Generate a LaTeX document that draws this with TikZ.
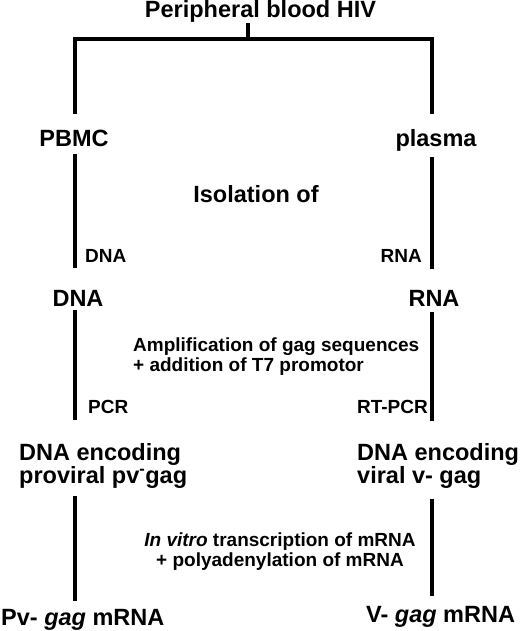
\documentclass[tikz,border=0pt]{standalone}
\usepackage{fontspec}
\setmainfont{Liberation Sans}
\usetikzlibrary{positioning, calc}

\begin{document}
\begin{tikzpicture}[
        x=1pt, y=1pt,
        big/.style={inner sep=0pt, font=\bfseries\fontsize{23.5}{19}\selectfont, align=left},
        small/.style={inner sep=0pt, font=\bfseries\fontsize{19}{20}\selectfont, align=left},
        link/.style={line width=4pt}
    ]
        \useasboundingbox (0,0) rectangle (520,-631);
        \coordinate (split) at (248,-39.5);
        \coordinate (colL) at (75,0);
        \coordinate (colR) at (432,0);

        \node[big, anchor=base] (blood) at (260.5,-18) {Peripheral blood HIV};
        \node[big, anchor=base] (pbmc) at (74,-147) {PBMC};
        \node[big, anchor=base] (plasma) at (436,-147) {plasma};
        \node[big, anchor=base] (isolation) at (256,-202) {Isolation of};
        \node[small, anchor=base west] (dnalabel) at (85,-262) {DNA};
        \node[small, anchor=base east] (rnalabel) at (422,-262) {RNA};
        \node[big, anchor=base] (dna) at (78,-306) {DNA};
        \node[big, anchor=base] (rna) at (434,-306) {RNA};
        \node[small, anchor=north west] (amplification) at (133,-338) {Amplification of gag sequences\\+ addition of T7 promotor};
        \node[small, anchor=base west] (pcr) at (88,-413) {PCR};
        \node[small, anchor=base east] (rtpcr) at (428,-413) {RT-PCR};
        \node[big, anchor=north west] (encodingL) at (19,-443) {DNA encoding\\proviral pv\textsuperscript{-}gag};
        \node[big, anchor=north west] (encodingR) at (357,-443) {DNA encoding\\viral v- gag};
        \node[small, anchor=north, align=center] (transcription) at (280,-533) {\textit{In vitro} transcription of mRNA\\+ polyadenylation of mRNA};
        \node[big, anchor=base west] (mrnaL) at (1,-625) {Pv- \textit{gag} mRNA};
        \node[big, anchor=base west] (mrnaR) at (366,-622) {V- \textit{gag} mRNA};

        \draw[link] (blood.south -| split) -- (split);
        \draw[link, shorten >=16pt] (split) -| (pbmc.north -| colL);
        \draw[link, shorten >=16pt] (split) -| (plasma.north -| colR);
        \draw[link, shorten <=7pt, shorten >=22pt] (pbmc.south -| colL) -- (dna.north -| colL);
        \draw[link, shorten <=5pt, shorten >=21pt] (plasma.south -| colR) -- (rna.north -| colR);
        \draw[link, shorten <=4pt, shorten >=23pt] (dna.south -| colL) -- (encodingL.north -| colL);
        \draw[link, shorten <=6pt, shorten >=22pt] (rna.south -| colR) -- (encodingR.north -| colR);
        \draw[link, shorten <=8pt, shorten >=8pt] (encodingL.south -| colL) -- (mrnaL.north -| colL);
        \draw[link, shorten <=11pt, shorten >=10pt] (encodingR.south -| colR) -- (mrnaR.north -| colR);
    \end{tikzpicture}
\end{document}
